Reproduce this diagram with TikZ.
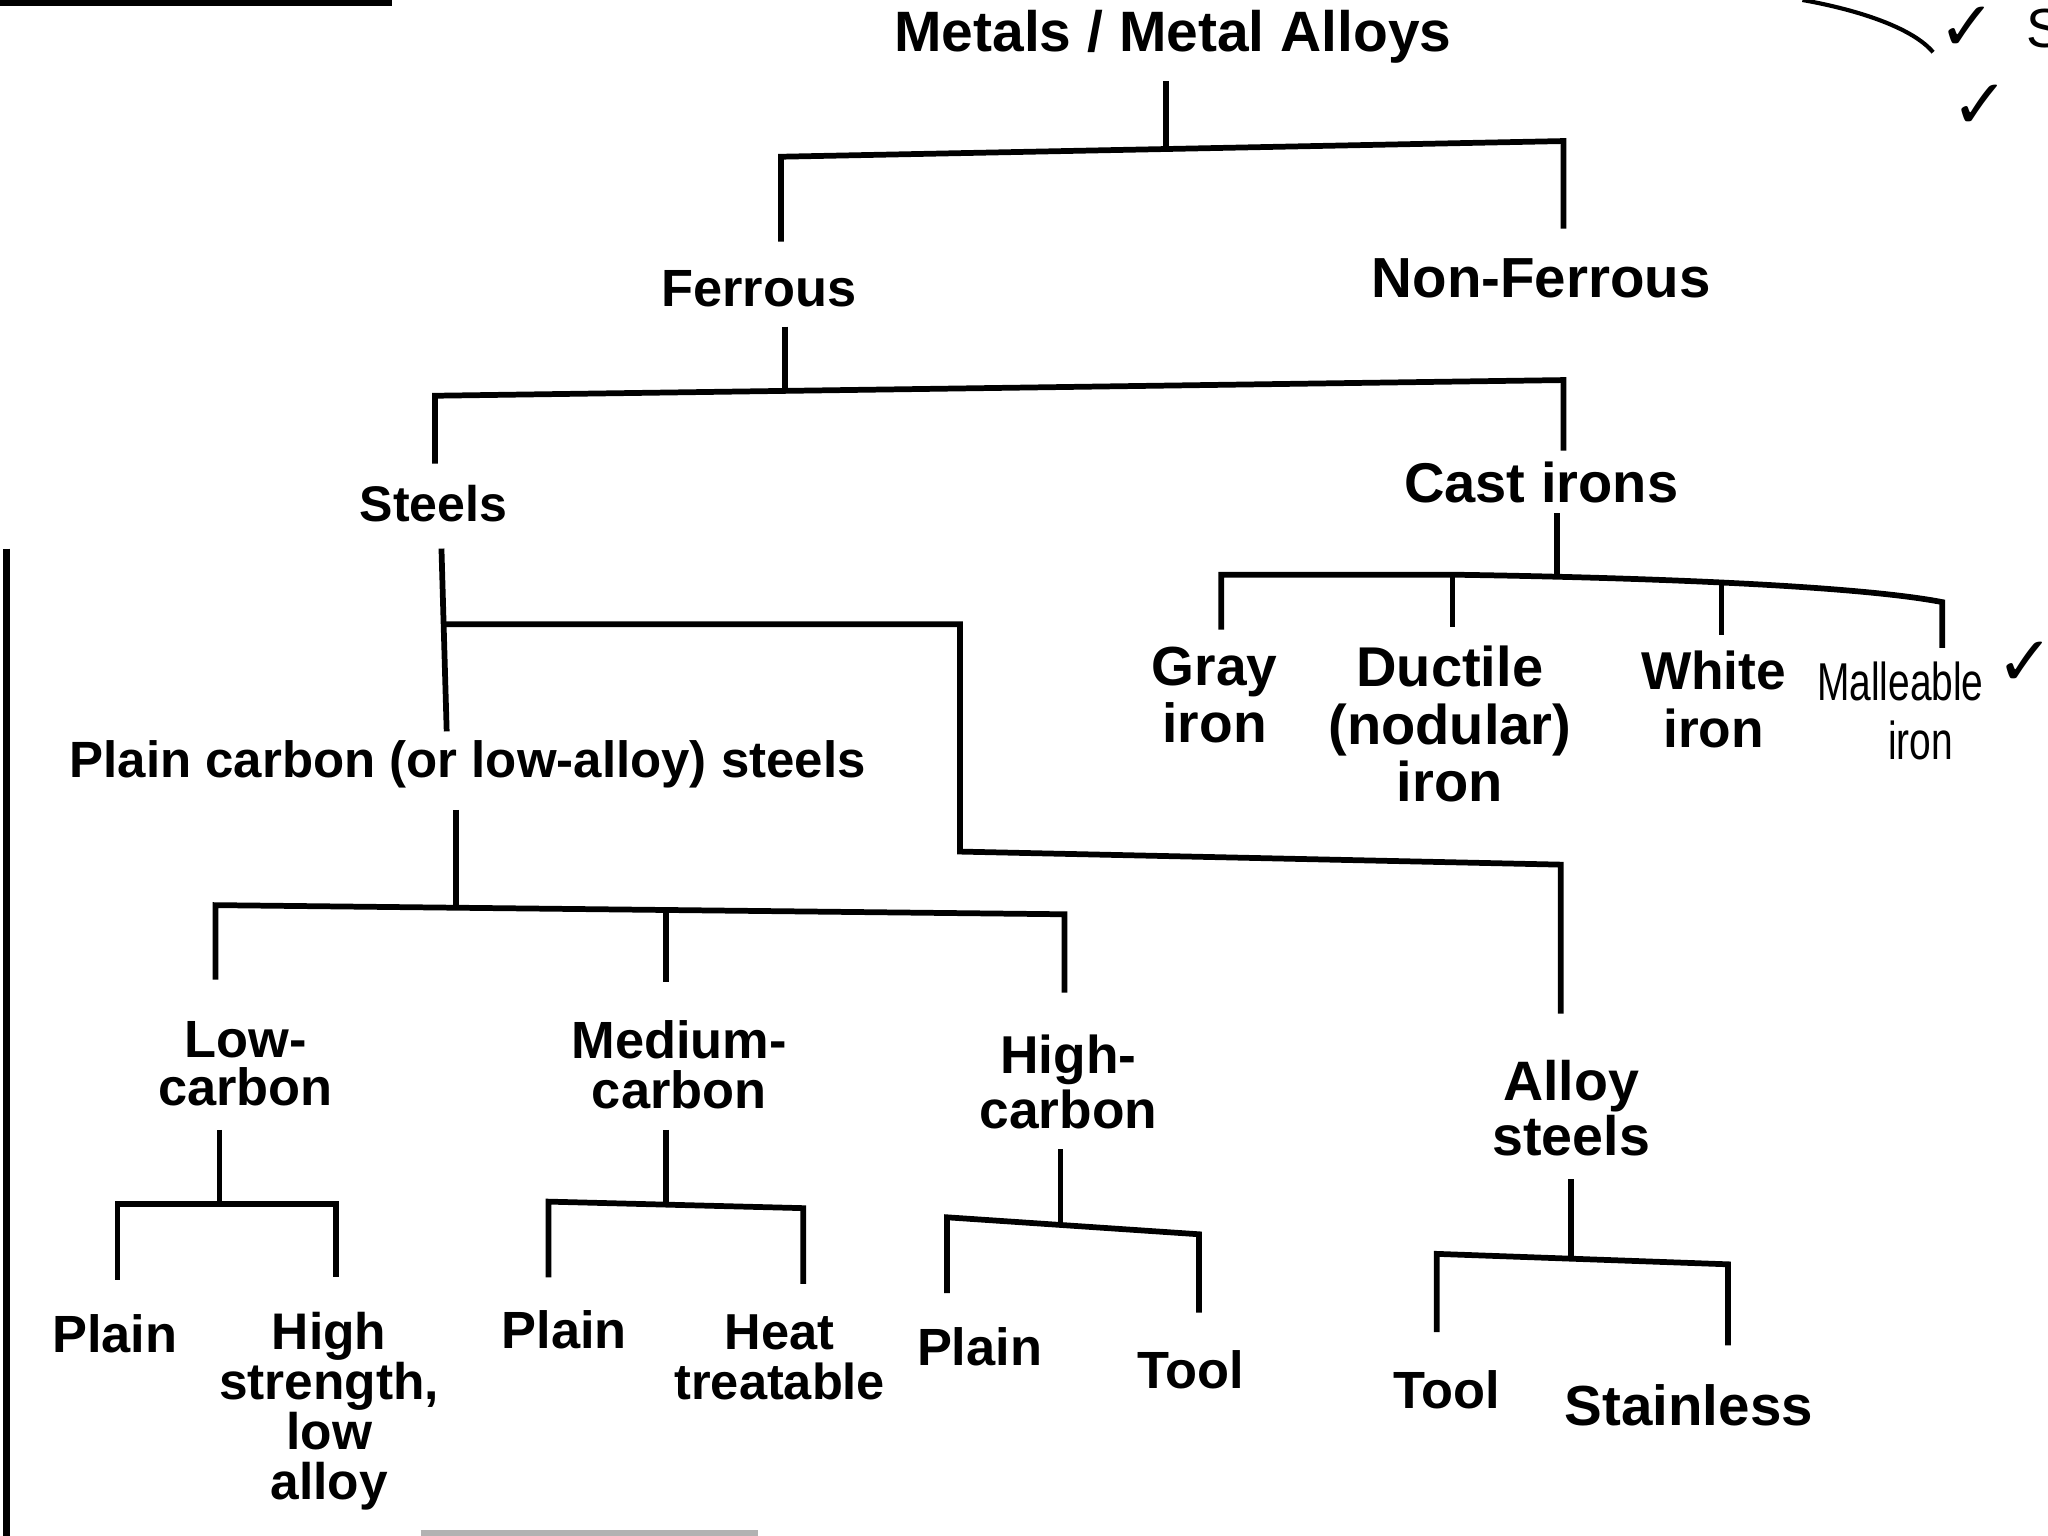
\documentclass[tikz,border=0pt]{standalone}
\usepackage{fontspec}
\setmainfont{Liberation Sans}
\newfontfamily\symf{DejaVu Sans}
\begin{document}
\begin{tikzpicture}[x=0.01cm,y=-0.01cm,
  lb/.style 2 args={font=\bfseries\fontsize{#1}{#2}\selectfont,align=center,inner sep=0pt,anchor=north},
  conn/.style={line width=1.25pt,line join=miter,line cap=butt},
  scan/.style={line width=1.4pt},
  tick/.style={font=\symf\bfseries\fontsize{15pt}{16pt}\selectfont,inner sep=0pt}]
\useasboundingbox (0,0) rectangle (1568,1176);
\fill[white] (0,0) rectangle (1568,1176);

% ---------- labels ----------
\node[lb={12.4pt}{14pt}] (root) at (898,7) {Metals / Metal Alloys};
\node[lb={11.4pt}{13pt}] (ferrous) at (581,206) {Ferrous};
\node[lb={12.3pt}{14pt}] (nonferrous) at (1180,197) {Non-Ferrous};
\node[lb={10.9pt}{13pt}] (steels) at (332,371) {Steels};
\node[lb={12.2pt}{14pt}] (cast) at (1180,353) {Cast irons};
\node[lb={12pt}{12.3pt}] (gray) at (930,495) {Gray\\iron};
\node[lb={12.2pt}{12.5pt}] (ductile) at (1110,494) {Ductile\\(nodular)\\iron};
\node[lb={11.6pt}{12.5pt}] (white) at (1312,498) {White\\iron};
\node[inner sep=0pt,anchor=north] (malleable) at (1455,504)
  {\scalebox{0.73}[1]{\fontsize{11.6pt}{12.8pt}\selectfont\begin{tabular}{@{}c@{}}Malleable\\\hspace*{12pt}iron\end{tabular}}};
\node[lb={11.1pt}{13pt}] (plaincarbon) at (358,566) {Plain carbon (or low-alloy) steels};
\node[lb={11.4pt}{10.6pt}] (low) at (188,781) {Low-\\carbon};
\node[lb={11.4pt}{10.8pt}] (medium) at (520,781) {Medium-\\carbon};
\node[lb={11.6pt}{11.9pt}] (high) at (818,792) {High-\\carbon};
\node[lb={12.1pt}{11.9pt}] (alloy) at (1203,811) {Alloy\\steels};
\node[lb={11.4pt}{13pt}] (plainA) at (88,1006) {Plain};
\node[lb={11.2pt}{10.9pt}] (hsla) at (252,1004) {High\\strength,\\low\\alloy};
\node[lb={11.4pt}{13pt}] (plainB) at (432,1003) {Plain};
\node[lb={11pt}{10.8pt}] (heat) at (597,1006) {Heat\\treatable};
\node[lb={11.4pt}{13pt}] (plainC) at (750,1016) {Plain};
\node[lb={11.4pt}{13pt}] (toolA) at (912,1033) {Tool};
\node[lb={11.4pt}{13pt}] (toolB) at (1108,1049) {Tool};
\node[lb={12.3pt}{14pt}] (stainless) at (1293,1059) {Stainless};

% ---------- connector points ----------
\coordinate (rootS) at (893,62);   \coordinate (rootJ) at (893,113);
\coordinate (b1L) at (598,120);    \coordinate (b1R) at (1197,108);
\coordinate (ferT) at (598,185);   \coordinate (nfT) at (1197,175);

\coordinate (ferS) at (601,250);   \coordinate (ferJ) at (601,299);
\coordinate (b2L) at (333,303);    \coordinate (b2R) at (1197,291);
\coordinate (stT) at (333,355);    \coordinate (ciT) at (1197,345);

\coordinate (ciS) at (1192,393);   \coordinate (ciJ) at (1192,440);
\coordinate (b3A) at (935,440);    \coordinate (b3B) at (1112,440);
\coordinate (b3C) at (1318,447);   \coordinate (b3D) at (1487,461);
\coordinate (grT) at (935,482);    \coordinate (duT) at (1112,480);
\coordinate (whT) at (1318,486);   \coordinate (maT) at (1487,496);

\coordinate (stS) at (338,420);    \coordinate (stJ) at (340,478);
\coordinate (pcT) at (342,560);
\coordinate (k1) at (735,478);     \coordinate (k2) at (735,652);
\coordinate (k3) at (1195,662);    \coordinate (alT) at (1195,776);

\coordinate (pcS) at (349,620);    \coordinate (pcJ) at (349,696);
\coordinate (b4L) at (165,693);    \coordinate (b4M) at (510,696);
\coordinate (b4R) at (815,700);
\coordinate (loT) at (165,750);    \coordinate (meT) at (510,752);
\coordinate (hiT) at (815,760);

\coordinate (loS) at (168,865);    \coordinate (loJ) at (168,922);
\coordinate (b5L) at (90,922);     \coordinate (b5R) at (257,922);
\coordinate (paT) at (90,980);     \coordinate (hsT) at (257,978);

\coordinate (meS) at (510,865);    \coordinate (meJ) at (510,922);
\coordinate (b6L) at (420,920);    \coordinate (b6R) at (615,925);
\coordinate (pbT) at (420,978);    \coordinate (htT) at (615,983);

\coordinate (hiS) at (812,880);    \coordinate (hiJ) at (812,937);
\coordinate (b7L) at (725,932);    \coordinate (b7R) at (918,945);
\coordinate (pcpT) at (725,990);   \coordinate (taT) at (918,1005);

\coordinate (alS) at (1203,903);   \coordinate (alJ) at (1203,963);
\coordinate (b8L) at (1100,960);   \coordinate (b8R) at (1323,968);
\coordinate (tbT) at (1100,1020);  \coordinate (ssT) at (1323,1030);

% ---------- connectors ----------
\draw[conn] (rootS) -- (rootJ);
\draw[conn] (ferT) -- (b1L) -- (b1R) -- (nfT);

\draw[conn] (ferS) -- (ferJ);
\draw[conn] (stT) -- (b2L) -- (b2R) -- (ciT);

\draw[conn] (ciS) -- (ciJ);
\draw[conn] (grT) -- (b3A) -- (b3B) .. controls (1250,442) and (1420,448) .. (b3D) -- (maT);
\draw[conn] (b3B) -- (duT);
\draw[conn] (b3C) -- (whT);

\draw[conn] (stS) -- (pcT);
\draw[conn] (stJ) -- (k1) -- (k2) -- (k3) -- (alT);

\draw[conn] (pcS) -- (pcJ);
\draw[conn] (loT) -- (b4L) -- (b4R) -- (hiT);
\draw[conn] (b4M) -- (meT);

\draw[conn] (loS) -- (loJ);
\draw[conn] (paT) -- (b5L) -- (b5R) -- (hsT);

\draw[conn] (meS) -- (meJ);
\draw[conn] (pbT) -- (b6L) -- (b6R) -- (htT);

\draw[conn] (hiS) -- (hiJ);
\draw[conn] (pcpT) -- (b7L) -- (b7R) -- (taT);

\draw[conn] (alS) -- (alJ);
\draw[conn] (tbT) -- (b8L) -- (b8R) -- (ssT);

% ---------- marks of the scanned page ----------
\coordinate (edgeA) at (0,1);    \coordinate (edgeB) at (300,1);
\draw[line width=2.2pt] (edgeA) -- (edgeB);
\coordinate (leftA) at (5,420);  \coordinate (leftB) at (5,1176);
\draw[scan] (leftA) -- (leftB);
\coordinate (botA) at (322,1174); \coordinate (botB) at (580,1174);
\draw[line width=1.3pt,gray!60] (botA) -- (botB);
\coordinate (arcA) at (1380,0);  \coordinate (arcB) at (1480,40);
\draw[line width=0.9pt] (arcA) .. controls (1425,8) and (1465,22) .. (arcB);
\node[tick] (t1) at (1506,22) {✓};
\node[tick] (t2) at (1516,82) {✓};
\node[tick] (t3) at (1551,508) {✓};
\node[font=\fontsize{12pt}{14pt}\selectfont,inner sep=0pt,anchor=west] (sS) at (1551,22) {S};
\end{tikzpicture}
\end{document}
